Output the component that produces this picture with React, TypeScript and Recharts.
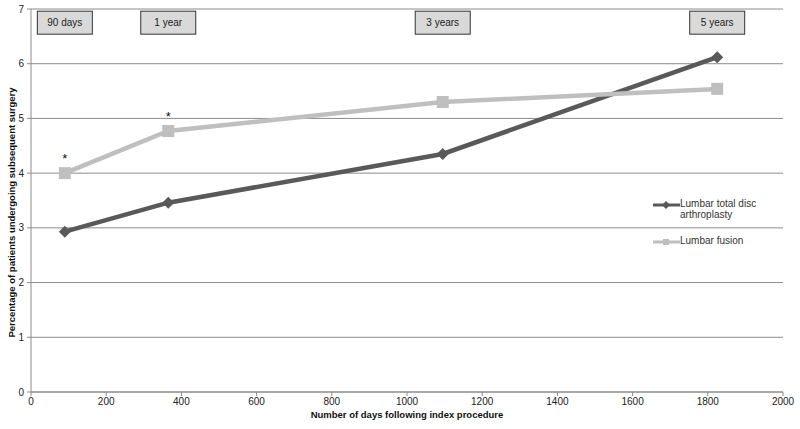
import {
  LineChart,
  Line,
  XAxis,
  YAxis,
  CartesianGrid,
  Legend,
  ReferenceDot,
} from "recharts";

const days = [90, 365, 1095, 1825];
const periodLabels = ["90 days", "1 year", "3 years", "5 years"];
const discValues = [2.93, 3.46, 4.35, 6.12];
const fusionValues = [4.0, 4.77, 5.3, 5.54];
const significant = [true, true, false, false];

const xTicks = [0, 200, 400, 600, 800, 1000, 1200, 1400, 1600, 1800, 2000];
const yTicks = [0, 1, 2, 3, 4, 5, 6, 7];

const DARK = "#595959";
const LIGHT = "#bfbfbf";
const FONT = "'Liberation Sans', Arial, Helvetica, sans-serif";

const data = days.map((d, i) => ({
  day: d,
  disc: discValues[i],
  fusion: fusionValues[i],
  star: significant[i],
}));

function Diamond(props: any) {
  const { cx, cy } = props;
  if (cx == null || cy == null) return null;
  const r = 6;
  return (
    <path
      d={`M${cx},${cy - r} L${cx + r},${cy} L${cx},${cy + r} L${cx - r},${cy} Z`}
      fill={DARK}
    />
  );
}

function FusionDot(props: any) {
  const { cx, cy, payload } = props;
  if (cx == null || cy == null) return null;
  const s = 12;
  return (
    <g>
      <rect x={cx - s / 2} y={cy - s / 2} width={s} height={s} fill={LIGHT} />
      {payload && payload.star && (
        <text
          x={cx}
          y={cy - 10}
          textAnchor="middle"
          fontFamily={FONT}
          fontSize={13}
          fill="#111"
        >
          *
        </text>
      )}
    </g>
  );
}

function PeriodBox(label: string) {
  return function Box(props: any) {
    const { cx, cy } = props;
    const w = 55;
    const h = 23;
    return (
      <g>
        <rect
          x={cx - w / 2}
          y={cy - h / 2}
          width={w}
          height={h}
          fill="#d9d9d9"
          stroke="#333"
          strokeWidth={1}
        />
        <text
          x={cx}
          y={cy + 3.5}
          textAnchor="middle"
          fontFamily={FONT}
          fontSize={10}
          fill="#222"
        >
          {label}
        </text>
      </g>
    );
  };
}

function LegendContent() {
  const row = (color: string, square: boolean) => (
    <svg width={27} height={8} style={{ flex: "none", marginTop: 3 }}>
      <line x1={0} y1={4} x2={27} y2={4} stroke={color} strokeWidth={3} />
      {square ? (
        <rect x={10} y={1} width={6} height={6} fill={color} />
      ) : (
        <path d="M13,0 L17,4 L13,8 L9,4 Z" fill={color} />
      )}
    </svg>
  );
  return (
    <div style={{ fontFamily: FONT, fontSize: 10, color: "#333", lineHeight: "11px" }}>
      <div style={{ display: "flex", alignItems: "flex-start" }}>
        {row(DARK, false)}
        <div>
          Lumbar total disc
          <br />
          arthroplasty
        </div>
      </div>
      <div style={{ display: "flex", alignItems: "flex-start", marginTop: 15 }}>
        {row(LIGHT, true)}
        <div>Lumbar fusion</div>
      </div>
    </div>
  );
}

export default function App() {
  return (
    <div style={{ position: "absolute", left: 0, top: 0, background: "#fff" }}>
      <LineChart
        width={800}
        height={429}
        data={data}
        margin={{ top: 9, right: 17, bottom: 0, left: 0 }}
      >
        <CartesianGrid vertical={false} stroke="#8c8c8c" strokeWidth={1} />
        <XAxis
          dataKey="day"
          type="number"
          domain={[0, 2000]}
          ticks={xTicks}
          height={37}
          tick={{ fill: "#222", fontSize: 10, fontFamily: FONT }}
          tickSize={4}
          tickMargin={2}
          axisLine={{ stroke: "#8c8c8c" }}
          tickLine={{ stroke: "#8c8c8c" }}
          label={{
            value: "Number of days following index procedure",
            position: "insideBottom",
            offset: 11,
            fill: "#111",
            fontSize: 9.5,
            fontWeight: "bold",
            fontFamily: FONT,
          }}
        />
        <YAxis
          type="number"
          domain={[0, 7]}
          ticks={yTicks}
          width={31}
          tick={{ fill: "#222", fontSize: 10, fontFamily: FONT }}
          tickSize={4}
          tickMargin={3}
          axisLine={{ stroke: "#8c8c8c" }}
          tickLine={{ stroke: "#8c8c8c" }}
          label={{
            value: "Percentage of patients undergoing subsequent surgery",
            angle: -90,
            position: "insideLeft",
            offset: 0,
            dx: 12,
            dy: 12,
            fill: "#111",
            fontSize: 9.5,
            fontWeight: "bold",
            fontFamily: FONT,
            style: { textAnchor: "middle" },
          }}
        />
        <Legend
          layout="horizontal"
          verticalAlign="middle"
          align="center"
          content={<LegendContent />}
          wrapperStyle={{ left: 653, top: 198, width: 140 }}
        />
        <Line
          type="linear"
          dataKey="disc"
          name="Lumbar total disc arthroplasty"
          stroke={DARK}
          strokeWidth={4.5}
          dot={<Diamond />}
          activeDot={false}
          isAnimationActive={false}
        />
        <Line
          type="linear"
          dataKey="fusion"
          name="Lumbar fusion"
          stroke={LIGHT}
          strokeWidth={4.5}
          dot={<FusionDot />}
          activeDot={false}
          isAnimationActive={false}
        />
        {days.map((d, i) => (
          <ReferenceDot
            key={d}
            x={d}
            y={6.75}
            r={0}
            shape={PeriodBox(periodLabels[i])}
          />
        ))}
      </LineChart>
    </div>
  );
}
